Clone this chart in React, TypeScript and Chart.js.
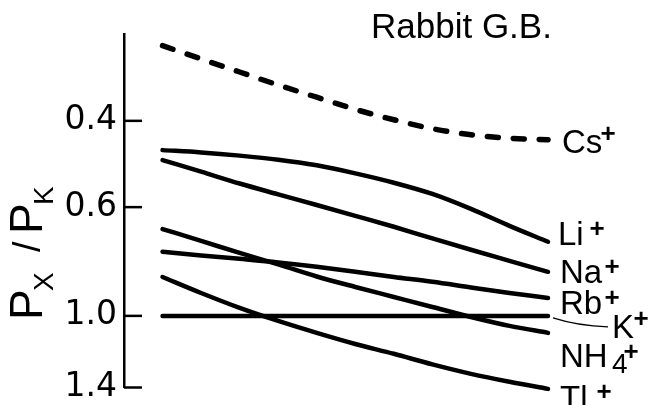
import React, { useEffect, useRef } from "react";
import { Chart, registerables } from "chart.js";

Chart.register(...registerables);

// Relative positions along the horizontal (no horizontal axis is drawn)
const steps = [0, 1, 2, 3, 4, 5, 6, 7, 8, 9, 10];

// Permeability ratios P_X / P_K for each cation
const csRatio = [0.281, 0.299, 0.318, 0.338, 0.358, 0.379, 0.398, 0.415, 0.427, 0.434, 0.437];
const liRatio = [0.459, 0.464, 0.471, 0.480, 0.493, 0.512, 0.535, 0.564, 0.605, 0.655, 0.706];
const naRatio = [0.481, 0.508, 0.537, 0.565, 0.594, 0.625, 0.658, 0.695, 0.733, 0.772, 0.813];
const rbRatio = [0.740, 0.753, 0.765, 0.778, 0.794, 0.813, 0.833, 0.852, 0.875, 0.898, 0.919];
const kRatio = [1.0, 1.0, 1.0, 1.0, 1.0, 1.0, 1.0, 1.0, 1.0, 1.0, 1.0];
const nh4Ratio = [0.665, 0.703, 0.744, 0.785, 0.831, 0.873, 0.915, 0.959, 1.005, 1.048, 1.083];
const tlRatio = [0.833, 0.898, 0.963, 1.024, 1.083, 1.141, 1.195, 1.256, 1.313, 1.363, 1.409];

// Y-axis ticks (log scale, inverted)
const tickValues = [0.4, 0.6, 1.0, 1.4];
const tickLabels = ["0.4", "0.6", "1.0", "1.4"];

const chartTitle = "Rabbit G.B.";

const series = [
  { ion: "Cs", sub: "", values: csRatio, dashed: true },
  { ion: "Li", sub: "", values: liRatio, dashed: false },
  { ion: "Na", sub: "", values: naRatio, dashed: false },
  { ion: "Rb", sub: "", values: rbRatio, dashed: false },
  { ion: "K", sub: "", values: kRatio, dashed: false },
  { ion: "NH", sub: "4", values: nh4Ratio, dashed: false },
  { ion: "Tl", sub: "", values: tlRatio, dashed: false },
];

// Placement of the ion labels relative to the end of each curve
const labelLayout: Record<string, any> = {
  Cs: { dx: 14, dy: 13, plusDx: 46, plusRise: 20 },
  Li: { dx: 10, dy: 3, plusDx: 39, plusRise: 17 },
  Na: { dx: 12, dy: 11, plusDx: 52, plusRise: 17 },
  Rb: { dx: 12, dy: 16, plusDx: 52, plusRise: 17 },
  K: { dx: 64, dy: 22, plusDx: 29, plusRise: 20, leader: true },
  NH: { dx: 12, dy: 34, plusDx: 71, plusRise: 16, subDx: 52, subDrop: 6 },
  Tl: { dx: 12, dy: 20, plusDx: 44, plusRise: 18 },
};

const LABEL_FONT = '33px "Liberation Sans", Arial, sans-serif';
const SUB_FONT = '28px "Liberation Sans", Arial, sans-serif';
const PLUS_FONT = 'bold 26px "Liberation Sans", Arial, sans-serif';
const TITLE_FONT = '35px "Liberation Sans", Arial, sans-serif';
const AXIS_MAIN_FONT = '46px "Liberation Sans", Arial, sans-serif';
const AXIS_SUB_FONT = '28px "Liberation Sans", Arial, sans-serif';
const AXIS_SLASH_FONT = '38px "Liberation Sans", Arial, sans-serif';

const annotations = {
  id: "annotations",
  afterDraw(chart: any) {
    const { ctx, chartArea } = chart;
    const yScale = chart.scales.y;
    ctx.save();
    ctx.strokeStyle = "#000";
    ctx.fillStyle = "#000";

    // inward tick marks
    ctx.lineWidth = 2.5;
    ctx.lineCap = "butt";
    for (const v of tickValues) {
      const py = yScale.getPixelForValue(v);
      ctx.beginPath();
      ctx.moveTo(chartArea.left, py);
      ctx.lineTo(chartArea.left + 18, py);
      ctx.stroke();
    }

    // ion labels at the right end of each curve
    chart.data.datasets.forEach((_ds: any, i: number) => {
      const meta = chart.getDatasetMeta(i);
      const last = meta.data[meta.data.length - 1];
      const s = series[i];
      const lay = labelLayout[s.ion];
      const x0 = chartArea.right + lay.dx;
      const base = last.y + lay.dy;
      ctx.textAlign = "left";
      ctx.textBaseline = "alphabetic";
      ctx.font = LABEL_FONT;
      ctx.fillText(s.ion, x0, base);
      if (s.sub) {
        ctx.font = SUB_FONT;
        ctx.fillText(s.sub, x0 + lay.subDx, base + lay.subDrop);
      }
      ctx.font = PLUS_FONT;
      ctx.textAlign = "center";
      ctx.fillText("+", x0 + lay.plusDx, base - lay.plusRise + 9);
      if (lay.leader) {
        ctx.lineWidth = 1.4;
        ctx.beginPath();
        ctx.moveTo(chartArea.right + 5, last.y + 2);
        ctx.quadraticCurveTo(chartArea.right + 30, last.y + 10, chartArea.right + 60, last.y + 11);
        ctx.stroke();
      }
    });

    // title
    ctx.textAlign = "left";
    ctx.textBaseline = "alphabetic";
    ctx.font = TITLE_FONT;
    ctx.fillText(chartTitle, 371, 38);

    // vertical axis title: P_X / P_K
    ctx.translate(42, 316);
    ctx.rotate(-Math.PI / 2);
    ctx.font = AXIS_MAIN_FONT;
    ctx.fillText("P", -4, 0);
    ctx.font = AXIS_SUB_FONT;
    ctx.fillText("X", 25, 11);
    ctx.font = AXIS_SLASH_FONT;
    ctx.fillText("/", 64, -2);
    ctx.font = AXIS_MAIN_FONT;
    ctx.fillText("P", 82, 0);
    ctx.font = AXIS_SUB_FONT;
    ctx.fillText("K", 111, 11);

    ctx.restore();
  },
};

export default function App() {
  const canvasRef = useRef<HTMLCanvasElement | null>(null);

  useEffect(() => {
    const canvas = canvasRef.current;
    if (!canvas) return;
    const chart = new Chart(canvas, {
      type: "line",
      data: {
        datasets: series.map((s) => ({
          label: s.ion + s.sub,
          data: steps.map((x, i) => ({ x, y: s.values[i] })),
          borderColor: "#000",
          borderWidth: s.dashed ? 5.5 : 4.5,
          borderDash: s.dashed ? [11, 15] : [],
          borderCapStyle: "round",
          borderJoinStyle: "round",
          pointRadius: 0,
          cubicInterpolationMode: "monotone",
          fill: false,
          clip: false,
        })),
      },
      options: {
        animation: false,
        responsive: false,
        maintainAspectRatio: false,
        devicePixelRatio: 1,
        layout: { padding: { left: 0, top: 34, right: 103, bottom: 17.5 } },
        plugins: {
          legend: { display: false },
          tooltip: { enabled: false },
          title: { display: false },
        },
        scales: {
          x: {
            type: "linear",
            min: -1,
            max: 10,
            display: false,
          },
          y: {
            type: "logarithmic",
            reverse: true,
            min: 0.266,
            max: 1.4,
            afterBuildTicks: (scale: any) => {
              scale.ticks = tickValues.map((v) => ({ value: v }));
            },
            afterFit: (scale: any) => {
              scale.width = 124;
              scale.paddingTop = 0;
              scale.paddingBottom = 0;
            },
            grid: { display: true, drawOnChartArea: false, drawTicks: false },
            border: { display: true, color: "#000", width: 2.5 },
            ticks: {
              autoSkip: false,
              padding: 7,
              color: "#000",
              font: { family: "DejaVu Sans", size: 33 },
              callback: (value: any) => {
                const idx = tickValues.findIndex((t) => Math.abs(t - Number(value)) < 1e-9);
                return idx >= 0 ? tickLabels[idx] : "";
              },
            },
          },
        },
      },
      plugins: [annotations],
    } as any);
    return () => chart.destroy();
  }, []);

  return (
    <div style={{ position: "absolute", left: 0, top: 0, width: 651, height: 405, background: "#fff" }}>
      <canvas ref={canvasRef} width={651} height={405} style={{ display: "block" }} />
    </div>
  );
}
